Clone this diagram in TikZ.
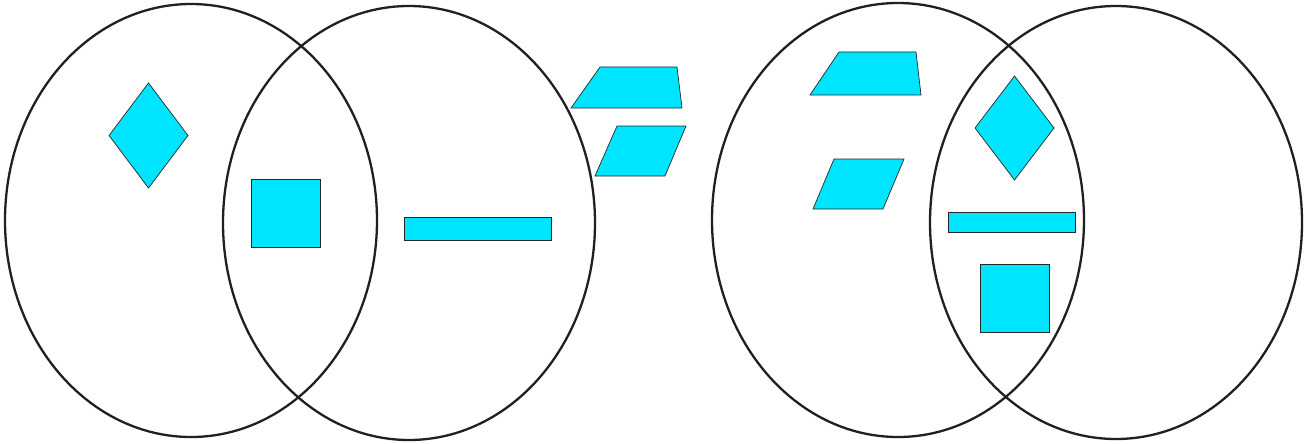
\documentclass[tikz,border=0pt]{standalone}
\usetikzlibrary{shapes.geometric}
\definecolor{shapecyan}{HTML}{00E5FF}
\definecolor{ringgray}{HTML}{231F20}
\begin{document}
\begin{tikzpicture}[x=1pt,y=-1pt,
  ring/.style={draw=ringgray,line width=2.3pt,ellipse,inner sep=0pt},
  piece/.style={fill=shapecyan,draw=black!85,line width=0.7pt,line join=miter}]
\useasboundingbox (0,0) rectangle (1306,444);
% rings
\node[ring,minimum width=372pt,minimum height=433pt] (e1) at (191,220.5) {};
\node[ring,minimum width=372pt,minimum height=434pt] (e2) at (409,223) {};
\node[ring,minimum width=372pt,minimum height=434pt] (e3) at (898,220) {};
\node[ring,minimum width=372pt,minimum height=433pt] (e4) at (1116,222.5) {};
% left group
\draw[piece] (148.5,83) -- (188,135.5) -- (148.5,188) -- (109,135.5) -- cycle;
\draw[piece] (251,179) rectangle (320,247);
\draw[piece] (404,217) rectangle (551,240);
% middle loose pieces
\draw[piece] (600,67) -- (677,67) -- (682,108) -- (571,108) -- cycle;
\draw[piece] (617,126) -- (686,126) -- (665,176) -- (595,176) -- cycle;
% right group
\draw[piece] (839,52) -- (916,52) -- (921,95) -- (810,95) -- cycle;
\draw[piece] (834,159) -- (904,159) -- (883,209) -- (813,209) -- cycle;
\draw[piece] (1014.5,76) -- (1054,128) -- (1014.5,180) -- (975,128) -- cycle;
\draw[piece] (948,212) rectangle (1075,232);
\draw[piece] (980,264) rectangle (1049,332);
\end{tikzpicture}
\end{document}
